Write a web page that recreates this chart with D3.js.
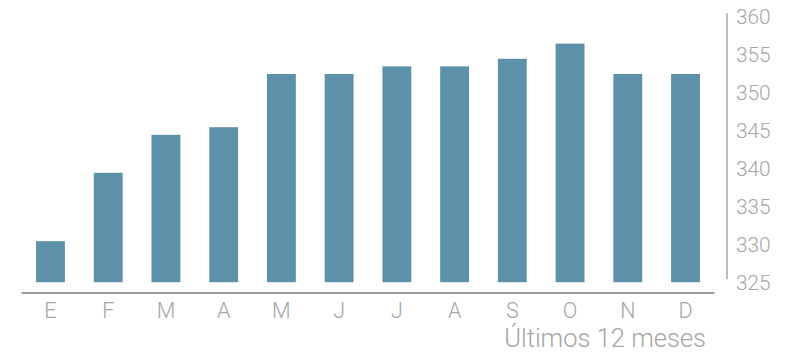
<!DOCTYPE html>
<html>
<head>
<meta charset="utf-8">
<script src="https://cdn.jsdelivr.net/npm/d3@7"></script>
<style>
  html, body { margin: 0; padding: 0; background: #fff; }
  svg text { font-family: Roboto, "Liberation Sans", sans-serif; font-weight: 300; fill: #a6a6a6; }
</style>
</head>
<body>
<svg id="chart" width="796" height="355"></svg>
<script>
// Monthly values for the last 12 months
const months = ["E", "F", "M", "A", "M", "J", "J", "A", "S", "O", "N", "D"];
const values = [330, 339, 344, 345, 352, 352, 353, 353, 354, 356, 352, 352];
const yTicks = [325, 330, 335, 340, 345, 350, 355, 360];
const axisTitle = "Últimos 12 meses";

const svg = d3.select("#chart");
const keys = months.map((m, i) => i);

const x = d3.scaleBand()
  .domain(keys)
  .range([21.6, 714.4])
  .paddingInner(0.5)
  .paddingOuter(0.25);

const y = d3.scaleLinear()
  .domain([325, 360])
  .range([279.2, 13.2]);

const barBase = y(325) + 3;

// Bars
svg.append("g")
  .selectAll("rect")
  .data(values)
  .join("rect")
  .attr("x", (d, i) => x(i))
  .attr("width", x.bandwidth())
  .attr("y", d => y(d))
  .attr("height", d => barBase - y(d))
  .attr("fill", "#5d91a9");

// Bottom axis line and month labels
svg.append("line")
  .attr("x1", x.range()[0]).attr("x2", x.range()[1])
  .attr("y1", 293).attr("y2", 293)
  .attr("stroke", "#9a9a9a").attr("stroke-width", 2);

svg.append("g")
  .selectAll("text")
  .data(months)
  .join("text")
  .attr("x", (d, i) => x(i) + x.bandwidth() / 2)
  .attr("y", 318)
  .attr("text-anchor", "middle")
  .attr("font-size", 21.5)
  .text(d => d);

// Right value axis
svg.append("line")
  .attr("x1", 727).attr("x2", 727)
  .attr("y1", y(360)).attr("y2", y(325))
  .attr("stroke", "#a9a9a9").attr("stroke-width", 1.5);

svg.append("g")
  .selectAll("text")
  .data(yTicks)
  .join("text")
  .attr("x", 736)
  .attr("y", d => y(d) + 3.6)
  .attr("dominant-baseline", "central")
  .attr("font-size", 20.8)
  .text(d => d);

// Axis title
svg.append("text")
  .attr("x", 706)
  .attr("y", 347)
  .attr("text-anchor", "end")
  .attr("font-size", 25.5)
  .text(axisTitle);
</script>
</body>
</html>
